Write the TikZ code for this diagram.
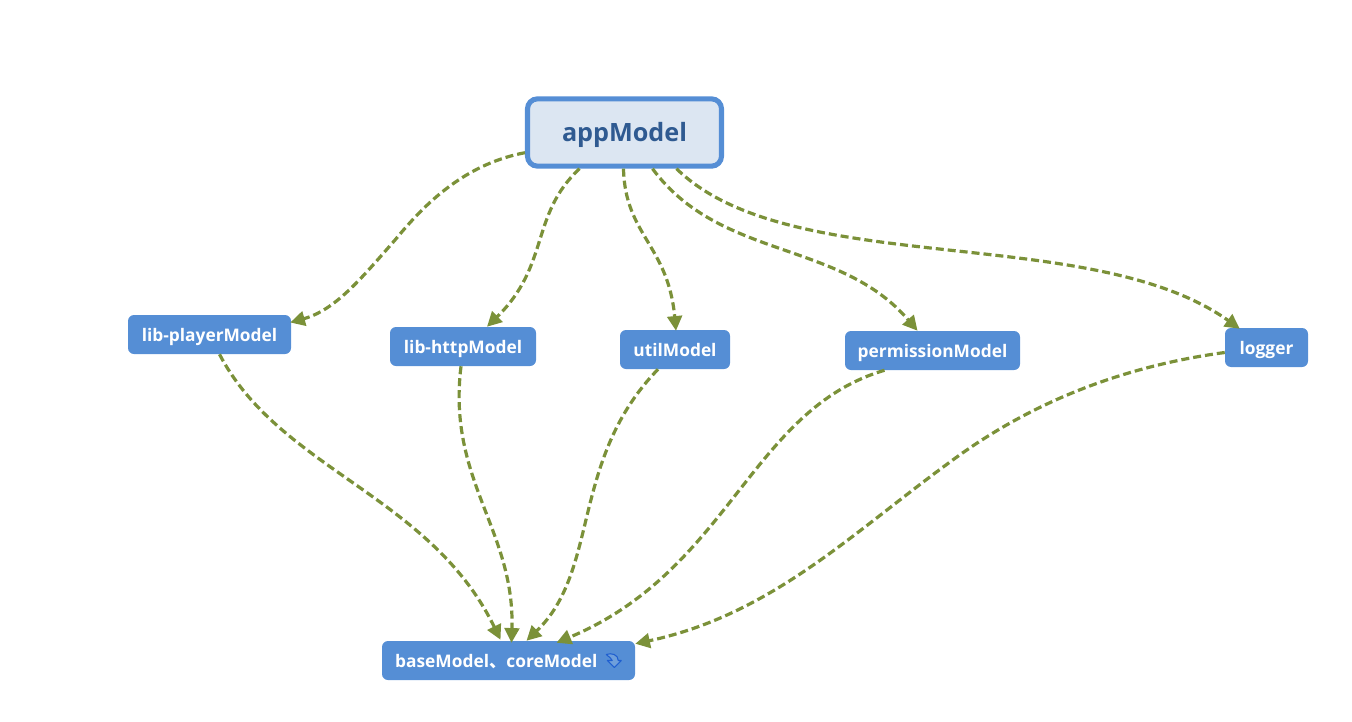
\documentclass[tikz,border=0pt]{standalone}
\usepackage{fontspec}
\setmainfont{Open Sans}
\newfontfamily\cjk{Noto Sans CJK SC}
\usetikzlibrary{arrows.meta}
\definecolor{boxblue}{HTML}{558ED5}
\definecolor{palefill}{HTML}{DCE6F2}
\definecolor{darktext}{HTML}{2F5A91}
\definecolor{linkgreen}{HTML}{7B9139}
\definecolor{iconblue}{HTML}{1F5FD0}
\tikzset{
  x=0.75pt,y=-0.75pt,
  model/.style={rectangle,rounded corners=4.5pt,fill=boxblue,text=white,inner sep=0pt,minimum height=29.25pt,text height=11pt,text depth=1.2pt,font=\fontsize{13pt}{15pt}\selectfont\bfseries},
  rootbox/.style={rectangle,rounded corners=7.5pt,fill=palefill,draw=boxblue,line width=3.8pt,text=darktext,inner sep=0pt,minimum width=145.5pt,minimum height=50.5pt,text height=16pt,text depth=1.8pt,font=\fontsize{18.9pt}{22pt}\selectfont\bfseries},
  link/.style={draw=linkgreen,line width=2.4pt,dash pattern=on 6pt off 3pt,-{Triangle[length=11pt,width=11pt,fill=linkgreen]}},
}
\begin{document}
\begin{tikzpicture}
\useasboundingbox (0,0) rectangle (1352,721);
\node[rootbox] (app) at (624.5,132.5) {appModel};
\node[model,minimum width=122.25pt] (player) at (209.5,334.5) {lib-playerModel};
\node[model,minimum width=109.5pt] (http) at (463,346.5) {lib-httpModel};
\node[model,minimum width=82.5pt] (util) at (675,349.5) {utilModel};
\node[model,minimum width=131.25pt] (perm) at (932.5,350.5) {permissionModel};
\node[model,minimum width=62.25pt] (logger) at (1266.5,347.5) {logger};
\node[model,minimum width=189.75pt,text width=170pt,align=left] (base) at (508.5,660.5) {baseModel{\cjk 、}coreModel};
% refresh icon inside the base box
\draw[draw=iconblue,line width=0.8pt,line join=round,fill=boxblue!85!white]
  ([shift={(-29,-6)}]base.east) .. controls ([shift={(-24,-8)}]base.east) and ([shift={(-17,-6)}]base.east) .. ([shift={(-17,0)}]base.east)
  -- ([shift={(-14,0)}]base.east) -- ([shift={(-21,7)}]base.east) -- ([shift={(-28,0)}]base.east) -- ([shift={(-23,0)}]base.east)
  .. controls ([shift={(-24,-3)}]base.east) and ([shift={(-26,-3)}]base.east) .. cycle;
\path[link] ([shift={(0,-16)}]app.south west) .. controls (460,165) and (420,210) .. (395,240) .. controls (360,280) and (335,310) .. ([shift={(-1,-12)}]player.east);
\path[link] ([shift={(-45,0)}]app.south) .. controls (530,215) and (550,265) .. ([shift={(24,0)}]http.north);
\path[link] ([shift={(-1,0)}]app.south) .. controls (625,235) and (668,245) .. ([shift={(1,1)}]util.north);
\path[link] ([shift={(28,0)}]app.south) .. controls (720,260) and (840,240) .. ([shift={(-15,0)}]perm.north);
\path[link] ([shift={(52,0)}]app.south) .. controls (790,280) and (1090,222) .. ([shift={(15,1)}]logger.north west);
\path[link] ([shift={(10,0)}]player.south) .. controls (280,470) and (430,495) .. ([shift={(-8,-1)}]base.north);
\path[link] ([shift={(-2,0)}]http.south) .. controls (447,480) and (515,530) .. ([shift={(3,2)}]base.north);
\path[link] ([shift={(-17,0)}]util.south) .. controls (570,460) and (600,570) .. ([shift={(18,0)}]base.north);
\path[link] ([shift={(-48,0)}]perm.south) .. controls (750,410) and (730,570) .. ([shift={(48,2)}]base.north);
\path[link] ([shift={(0,5)}]logger.west) .. controls (1110,368) and (1020,410) .. (950,462) .. controls (850,535) and (770,615) .. ([shift={(0,3)}]base.north east);
\end{tikzpicture}
\end{document}
